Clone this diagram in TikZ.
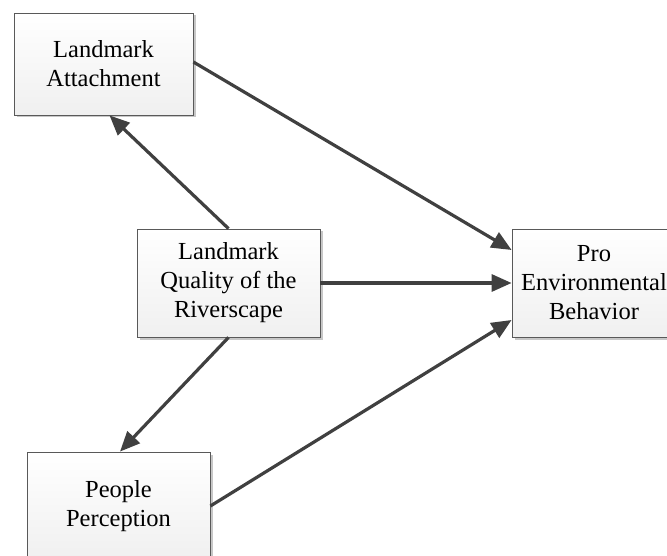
\documentclass[tikz,border=0pt]{standalone}
\usepackage{fontspec}
\setmainfont{Liberation Serif}
\usetikzlibrary{arrows.meta,shadows}
\begin{document}
\begin{tikzpicture}[x=1pt,y=-1pt,
  box/.style={draw=gray!70!black, line width=0.8pt, top color=white, bottom color=gray!12,
    drop shadow={shadow xshift=2.5pt, shadow yshift=-2.5pt, fill=gray!55, opacity=0.8},
    align=center, inner sep=0pt,
    font=\fontsize{24.5}{29}\selectfont},
  arr/.style={draw=black!75, line width=3.2pt,
    -{Triangle[length=20pt,width=17pt]}, shorten >=0pt}]
\useasboundingbox (0,0) rectangle (667,556);
\node[box, minimum width=179pt, minimum height=102pt] (LA) at (103.5,64) {Landmark\\Attachment};
\node[box, minimum width=183pt, minimum height=108pt] (LQ) at (228.5,283) {Landmark\\Quality of the\\Riverscape};
\node[box, minimum width=164pt, minimum height=108pt] (PEB) at (594,283) {Pro\\Environmental\\Behavior};
\node[box, minimum width=183pt, minimum height=108pt] (PP) at (118.5,506) {People\\Perception};
\draw[arr] ([yshift=2pt]LA.east) -- ([yshift=33pt]PEB.west);
\draw[arr] (LQ.east) -- (PEB.west);
\draw[arr] (PP.east) -- ([yshift=-37pt]PEB.west);
\draw[arr] (LQ.north) -- ([xshift=6pt]LA.south);
\draw[arr] (LQ.south) -- ([xshift=1.5pt]PP.north);
\end{tikzpicture}
\end{document}
